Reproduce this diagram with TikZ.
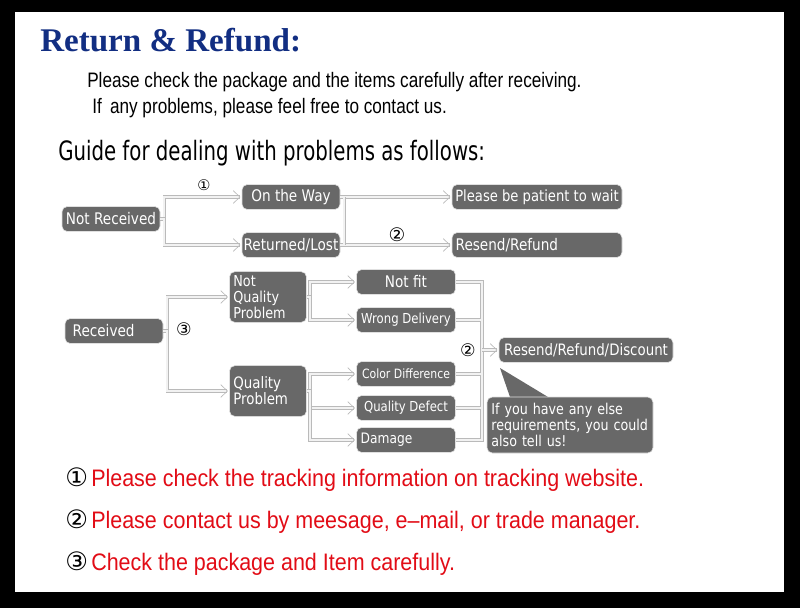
\documentclass[tikz,border=0pt]{standalone}
\usepackage{fontspec}
\setmainfont{Liberation Sans}
\newfontfamily\titlefont{Liberation Serif}
\newfontfamily\narrowfont[FakeStretch=0.82]{Liberation Sans}
\newfontfamily\notefont[FakeStretch=0.9]{Liberation Sans}
\newfontfamily\guidefont[FakeStretch=0.74]{DejaVu Sans}
\newfontfamily\boxfont[FakeStretch=0.85]{DejaVu Sans}
\newfontfamily\symfont{DejaVu Sans}
\usetikzlibrary{arrows.meta}
\definecolor{titleblue}{RGB}{18,46,130}
\definecolor{boxgray}{RGB}{104,104,104}
\definecolor{notered}{RGB}{226,12,22}

\begin{document}
\begin{tikzpicture}[x=0.75pt, y=-0.75pt,
  box/.style={fill=boxgray, draw=black!12, line width=0.4pt, rounded corners=4pt, text=white,
    inner sep=0pt, minimum width=#1, minimum height=18.75pt, font=\boxfont\fontsize{12}{12}\selectfont},
  box/.default=73.5pt,
  link/.style={draw=black!27, double=black!5, double distance=1.6pt, line width=0.5pt},
  arr/.style={link, -{Straight Barb[length=5pt, width=9.5pt]}, shorten >=1pt},
  num/.style={inner sep=0pt, font=\symfont\fontsize{#1}{#1}\selectfont},
  note/.style={anchor=base west, inner sep=0pt, text=notered, font=\notefont\fontsize{17.9}{17.9}\selectfont}]

% frame
\fill[black] (0,0) rectangle (800,608);
\fill[white] (15,12) rectangle (784,592);

% heading
\node[anchor=base west, inner sep=0pt, text=titleblue, font=\titlefont\bfseries\fontsize{24.8}{25}\selectfont] (title) at (40,51) {Return \& Refund:};
\node[anchor=base west, inner sep=0pt, font=\narrowfont\fontsize{15.7}{15.7}\selectfont] (intro1) at (87,87) {Please check the package and the items carefully after receiving.};
\node[anchor=base west, inner sep=0pt, font=\narrowfont\fontsize{15.7}{15.7}\selectfont] (intro2) at (92,113) {If\, any problems, please feel free to contact us.};
\node[anchor=base west, inner sep=0pt, font=\guidefont\fontsize{20}{20}\selectfont] (guide) at (58,160) {Guide for dealing with problems as follows:};

% not received
\node[box] (notrec) at (111,219) {Not Received};
\node[box] (onway) at (291,197) {On the Way};
\node[box] (lost) at (291,245) {Returned/Lost};
\node[box=127.5pt, font=\boxfont\fontsize{11.6}{11.6}\selectfont] (wait) at (537,197) {Please be patient to wait};
\node[box=127.5pt, text width=122pt, align=left] (resend) at (537,245) {Resend/Refund};

\draw[arr] (notrec.east) -- ++(4,0) |- (onway.west);
\draw[arr] (notrec.east) -- ++(4,0) |- (lost.west);
\draw[arr] (onway.east) -- ++(4,0) coordinate (j1) |- (wait.west);
\draw[arr] (lost.east) -- (resend.west);
\draw[link] (j1) -- (j1 |- lost.east);
\node[num=11] (n1) at (204,185) {①};
\node[num=14] (n2) at (397,235) {②};

% received
\node[box, text width=62pt, align=left] (rec) at (114,331) {Received};
\node[box=57.75pt, minimum height=38pt, text width=52pt, align=left,
  font=\boxfont\fontsize{11.3}{11.8}\selectfont] (nqp) at (268,297) {Not\\Quality\\Problem};
\node[box=57.75pt, minimum height=38pt, text width=52pt, align=left,
  font=\boxfont\fontsize{11.8}{12}\selectfont] (qp) at (268,391) {Quality\\Problem};

\draw[arr] (rec.east) -- ++(4,0) |- (nqp.west);
\draw[arr] (rec.east) -- ++(4,0) |- (qp.west);
\node[num=13] (n3) at (184,329) {③};

\node[box=74.25pt] (notfit) at (406,282) {Not fit};
\node[box=74.25pt, font=\boxfont\fontsize{10.3}{10.3}\selectfont] (wrong) at (406,320) {Wrong Delivery};
\node[box=74.25pt, font=\boxfont\fontsize{9.6}{9.6}\selectfont] (color) at (406,374) {Color Difference};
\node[box=74.25pt, font=\boxfont\fontsize{10.3}{10.3}\selectfont] (defect) at (406,408) {Quality Defect};
\node[box=74.25pt, text width=68pt, align=left, font=\boxfont\fontsize{10.8}{10.8}\selectfont] (damage) at (406,440) {Damage};

\draw[arr] (nqp.east) -- ++(3,0) |- (notfit.west);
\draw[arr] (nqp.east) -- ++(3,0) |- (wrong.west);
\draw[arr] (qp.east) -- ++(3,0) |- (color.west);
\draw[arr] (qp.east) -- ++(3,0) |- (defect.west);
\draw[arr] (qp.east) -- ++(3,0) |- (damage.west);

% collect to the result
\node[box=130.5pt, font=\boxfont\fontsize{11.8}{11.8}\selectfont] (discount) at (586,350) {Resend/Refund/Discount};
\coordinate (bus) at (482,350);
\draw[link] (notfit.east) -- (notfit.east -| bus) -- (damage.east -| bus) -- (damage.east)
  (wrong.east) -- (wrong.east -| bus) (color.east) -- (color.east -| bus) (defect.east) -- (defect.east -| bus);
\draw[arr] (bus) -- (discount.west);
\node[num=13] (n4) at (468,350) {②};

% speech bubble
\fill[boxgray] (500,368) -- (511,400) -- (553,400) -- cycle;
\node[box=124.5pt, minimum height=42pt, text width=118pt, align=left,
  font=\boxfont\fontsize{11.2}{11.8}\selectfont] (tell) at (570,425) {If you have any else\\requirements, you could\\also tell us!};

% notes
\node[note] (note1) at (91,486) {Please check the tracking information on tracking website.};
\node[note] (note2) at (91,528) {Please contact us by meesage, e–mail, or trade manager.};
\node[note] (note3) at (91,570) {Check the package and Item carefully.};
\node[num=19, anchor=base east] at ([xshift=-2pt]note1.base west) {①};
\node[num=19, anchor=base east] at ([xshift=-2pt]note2.base west) {②};
\node[num=19, anchor=base east] at ([xshift=-2pt]note3.base west) {③};
\end{tikzpicture}
\end{document}
